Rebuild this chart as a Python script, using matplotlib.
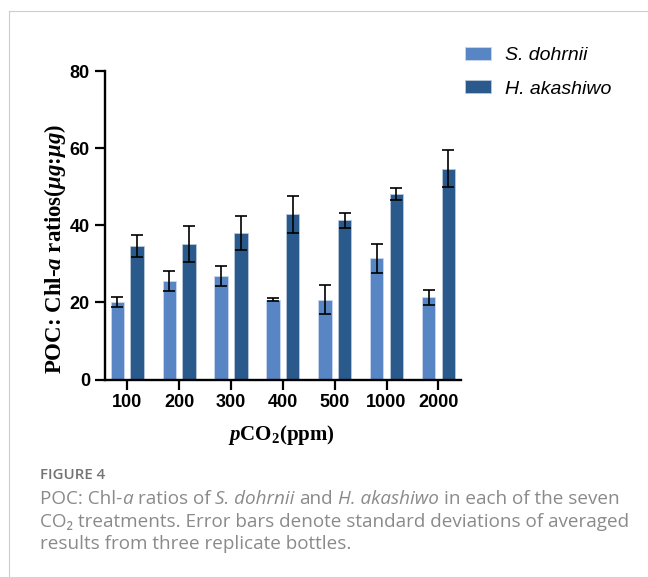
import numpy as np
import matplotlib
matplotlib.use('Agg')
import matplotlib.pyplot as plt
from matplotlib.lines import Line2D

# mathtext in bold Times-like serif for the axis titles
plt.rcParams['mathtext.fontset'] = 'custom'
plt.rcParams['mathtext.rm'] = 'Liberation Serif:bold'
plt.rcParams['mathtext.it'] = 'Liberation Serif:italic:bold'
plt.rcParams['mathtext.bf'] = 'Liberation Serif:bold'

# data
co2Labels = ['100', '200', '300', '400', '500', '1000', '2000']
sdMean = [20.1, 25.5, 26.9, 20.7, 20.7, 31.4, 21.3]
sdErr = [1.3, 2.6, 2.6, 0.4, 3.7, 3.7, 1.9]
haMean = [34.7, 35.1, 38.1, 42.9, 41.3, 48.1, 54.6]
haErr = [2.9, 4.7, 4.4, 4.8, 2.0, 1.5, 4.8]
seriesNames = ['S. dohrnii', 'H. akashiwo']
yTicks = [0, 20, 40, 60, 80]

lightBlue = '#5886C5'
darkBlue = '#2A5A8C'
capGrey = '#8a8a8a'

W, H = 648, 577
fig = plt.figure(figsize=(W/100, H/100), dpi=100)

# axes placed in pixel terms
axL, axR, axB, axT = 105, 461, 379.5, 71
ax = fig.add_axes([axL/W, 1-axB/H, (axR-axL)/W, (axB-axT)/H])

x = np.arange(len(co2Labels))
bw = 0.257
off = 0.19
ekw = dict(elinewidth=1.2, capthick=1.2, ecolor='black')
ax.bar(x-off, sdMean, bw, yerr=sdErr, capsize=4.2, color=lightBlue,
       edgecolor='#c9d7ee', linewidth=0.6, error_kw=ekw, label=seriesNames[0])
ax.bar(x+off, haMean, bw, yerr=haErr, capsize=4.2, color=darkBlue,
       edgecolor='#b9c8dc', linewidth=0.6, error_kw=ekw, label=seriesNames[1])

ax.set_xlim(-0.43, 6.436)
ax.set_ylim(0, 80)
ax.set_yticks(yTicks)
ax.set_xticks(x)
ax.set_xticklabels(co2Labels)
for s in ['top', 'right']:
    ax.spines[s].set_visible(False)
for s in ['left', 'bottom']:
    ax.spines[s].set_linewidth(1.7)
ax.tick_params(axis='both', length=7.2, width=1.6, direction='out')
ax.tick_params(axis='y', pad=3.6)
ax.tick_params(axis='x', pad=3.2)
for lab in ax.get_xticklabels() + ax.get_yticklabels():
    lab.set_fontfamily('Liberation Sans')
    lab.set_fontweight('bold')
    lab.set_fontsize(13)
# the two long labels look condensed in the original
for lab in ax.get_xticklabels()[-2:]:
    lab.set_fontfamily(['Liberation Sans Narrow', 'Liberation Sans'])

# axis titles
fig.text(55/W, 1-249/H, r'POC: Chl-$a$ ratios($\mu g$:$\mu g$)', rotation=90,
         ha='center', va='center', fontfamily='Liberation Serif',
         fontweight='bold', fontsize=16.5)
fig.text(281/W, 1-435/H, r'$p\mathrm{CO}_2$(ppm)', ha='center', va='center',
         fontfamily='Liberation Serif', fontweight='bold', fontsize=15)

# legend
fig.legend(loc='upper left', bbox_to_anchor=(465/W, 1-47/H), frameon=False,
           prop={'family': 'Liberation Sans', 'style': 'italic', 'size': 14},
           handlelength=1.34, handleheight=0.68, handletextpad=0.72,
           labelspacing=0.8, borderpad=0, borderaxespad=0)

# panel border (top and left)
fig.add_artist(Line2D([9/W, 1], [1-11.3/H, 1-11.3/H], color='#cccccc', lw=0.8))
fig.add_artist(Line2D([9/W, 9/W], [0, 1-11.3/H], color='#cccccc', lw=0.8))

# caption, pieces chained so italics sit inline
bg = fig.add_axes([0, 0, 1, 1], zorder=-1)
bg.axis('off')
capFont = ['Open Sans', 'DejaVu Sans']
capSize = 13.6
spacePt = 0.26*capSize

def rich_line(xpx, ypx, parts):
    t = bg.text(xpx/W, 1-ypx/H, parts[0][0], style=parts[0][1],
                transform=fig.transFigure, ha='left', va='baseline',
                family=capFont, fontsize=capSize, color=capGrey)
    for s, st in parts[1:]:
        gap = spacePt if s.startswith(' ') else 0
        t = bg.annotate(s.strip(), xy=(1, 0), xycoords=t, xytext=(gap, 0),
                        textcoords='offset points', ha='left', va='bottom',
                        style=st, family=capFont, fontsize=capSize, color=capGrey)

bg.text(40/W, 1-479/H, 'FIGURE 4', transform=fig.transFigure, ha='left',
        va='baseline', family=capFont, fontsize=10.8, fontweight='semibold',
        color='#737373')
rich_line(40, 504, [('POC: Chl-', 'normal'), ('a', 'italic'), (' ratios of', 'normal'),
                    (' S. dohrnii', 'italic'), (' and', 'normal'), (' H. akashiwo', 'italic'),
                    (' in each of the seven', 'normal')])
rich_line(40, 527, [('CO\u2082 treatments. Error bars denote standard deviations of averaged', 'normal')])
rich_line(40, 549, [('results from three replicate bottles.', 'normal')])

fig.savefig('out.png', dpi=100)
